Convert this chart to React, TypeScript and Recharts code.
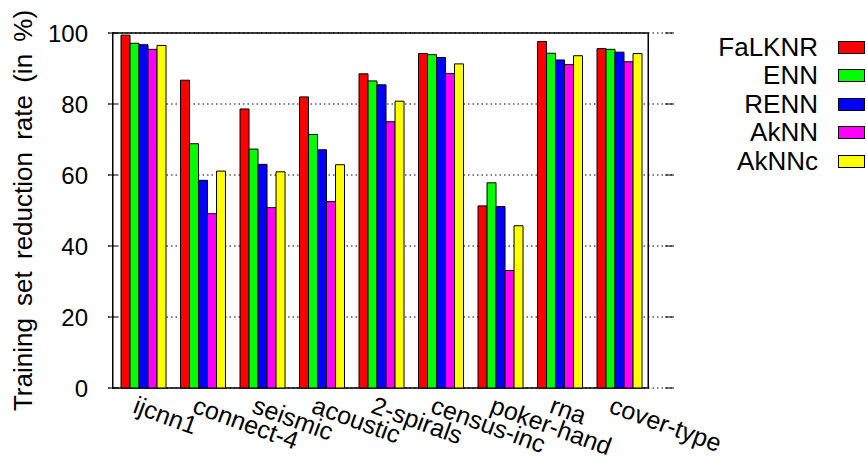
import { BarChart, Bar, XAxis, YAxis, CartesianGrid, Legend, ReferenceArea, Label } from 'recharts';

const datasets = ['ijcnn1', 'connect-4', 'seismic', 'acoustic', '2-spirals', 'census-inc', 'poker-hand', 'rna', 'cover-type'];

// reduction rate per dataset, in %
const falknr = [99.4, 86.7, 78.6, 82.0, 88.5, 94.2, 51.3, 97.6, 95.6];
const enn = [97.1, 68.8, 67.3, 71.4, 86.5, 93.9, 57.8, 94.3, 95.4];
const renn = [96.7, 58.5, 63.0, 67.1, 85.4, 93.1, 51.1, 92.4, 94.6];
const aknn = [95.4, 49.1, 50.8, 52.5, 75.0, 88.6, 33.1, 91.1, 91.9];
const aknnc = [96.5, 61.1, 60.9, 62.9, 80.8, 91.3, 45.7, 93.6, 94.2];

const yTicks = [0, 20, 40, 60, 80, 100];

const seriesList = [
  { key: 'FaLKNR', values: falknr, color: '#ff0000' },
  { key: 'ENN', values: enn, color: '#00ff00' },
  { key: 'RENN', values: renn, color: '#0000ff' },
  { key: 'AkNN', values: aknn, color: '#ff00ff' },
  { key: 'AkNNc', values: aknnc, color: '#ffff00' },
];

const data = datasets.map((name, i) => {
  const row: Record<string, string | number> = { name };
  seriesList.forEach(s => { row[s.key] = s.values[i]; });
  return row;
});

const W = 867;
const H = 456;
const LEGEND_W = 193;
const Y_AXIS_W = 108;
const PLOT_RIGHT = W - LEGEND_W;
const FONT = '"Liberation Sans", Arial, sans-serif';
const INNER_TICK = 9;
const Y_TICK_MARGIN = 20;

const YTick = (props: any) => {
  const { x, y, payload } = props;
  const axisX = x + Y_TICK_MARGIN;
  return (
    <g>
      <text x={x} y={y} textAnchor="end" dominantBaseline="central" fontSize={24} fontFamily={FONT} fill="#000">
        {payload.value}
      </text>
      <line x1={axisX} x2={axisX + INNER_TICK} y1={y} y2={y} stroke="#000" strokeWidth={1} />
      <line x1={PLOT_RIGHT - INNER_TICK} x2={PLOT_RIGHT} y1={y} y2={y} stroke="#000" strokeWidth={1} />
    </g>
  );
};

// slanted dataset names, starting just left of the group centre
const XTick = (props: any) => {
  const { x, y, payload } = props;
  return (
    <text
      transform={`translate(${x - 4},${y - 2}) rotate(20)`}
      dy="0.78em"
      textAnchor="start"
      fontSize={25}
      fontFamily={FONT}
      fill="#000"
    >
      {payload.value}
    </text>
  );
};

const LegendBox = () => (
  <div style={{ fontFamily: FONT, fontSize: 26, color: '#000' }}>
    {seriesList.map(s => (
      <div key={s.key} style={{ display: 'flex', alignItems: 'center', height: 28.5 }}>
        <div style={{ width: 144, textAlign: 'right' }}>{s.key}</div>
        <div style={{ marginLeft: 20, width: 25, height: 11, background: s.color, border: '1px solid #000' }} />
      </div>
    ))}
  </div>
);

export default function App() {
  return (
    <div style={{ position: 'absolute', left: 0, top: 0, width: W, height: H, background: '#fff' }}>
      <BarChart
        width={W}
        height={H}
        data={data}
        margin={{ top: 33, right: 0, left: 0, bottom: 0 }}
        barCategoryGap="13.9%"
        barGap={0}
      >
        <CartesianGrid vertical={false} stroke="#000" strokeDasharray="1.5 3" strokeWidth={1} />
        <XAxis
          dataKey="name"
          height={68}
          padding={{ left: 4.75, right: 25.75 }}
          axisLine={false}
          tickLine={false}
          interval={0}
          tick={<XTick />}
        />
        <YAxis
          domain={[0, 100]}
          ticks={yTicks}
          width={Y_AXIS_W}
          axisLine={false}
          tickLine={false}
          tickSize={0}
          tickMargin={Y_TICK_MARGIN}
          tick={<YTick />}
        >
          <Label
            content={(p: any) => {
              const vb = p.viewBox || {};
              const cy = (vb.y ?? 33) + (vb.height ?? 355) / 2;
              return (
                <text
                  transform={`translate(23,${cy}) rotate(-90)`}
                  textAnchor="middle"
                  dominantBaseline="central"
                  fontSize={26}
                  fontFamily={FONT}
                  style={{ wordSpacing: 5 }}
                  fill="#000"
                >
                  Training set reduction rate (in %)
                </text>
              );
            }}
          />
        </YAxis>
        <Legend
          layout="vertical"
          align="right"
          verticalAlign="top"
          content={<LegendBox />}
          wrapperStyle={{ width: LEGEND_W, top: 33, right: 0 }}
        />
        {seriesList.map(s => (
          <Bar key={s.key} dataKey={s.key} fill={s.color} stroke="#000" strokeWidth={1} isAnimationActive={false} />
        ))}
        <ReferenceArea y1={0} y2={100} fill="none" stroke="#000" strokeWidth={1.5} ifOverflow="visible" />
      </BarChart>
    </div>
  );
}
